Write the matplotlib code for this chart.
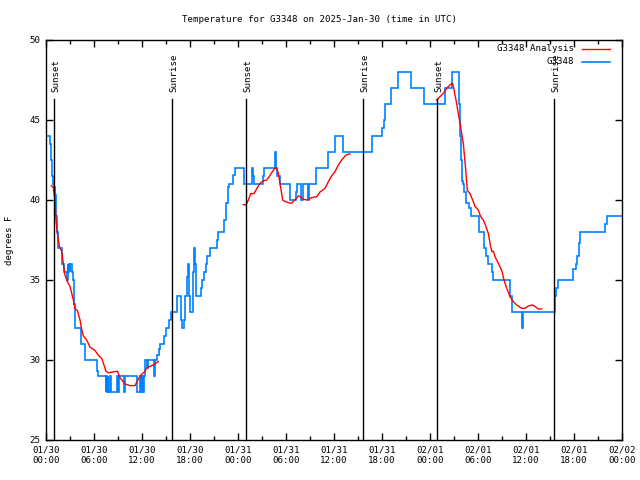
import numpy as np
import matplotlib
matplotlib.use("Agg")
import matplotlib.pyplot as plt
import matplotlib.transforms as mtransforms

# ---- data (hours since 2025-01-30 00:00 UTC) ----
obs_hours = [0.3, 0.55, 0.65, 0.79, 0.92, 1.0, 1.17, 1.3, 1.42, 1.54, 2.0, 2.3, 2.58,
             2.75, 2.8, 2.87, 2.95, 3.05, 3.2, 3.4, 3.5, 3.67, 4.375, 4.92, 6.33, 6.54,
             7.46, 7.55, 7.62, 7.7, 7.8, 8.0, 8.08, 8.9, 8.97, 9.17, 9.75, 9.83, 11.33,
             11.75, 11.85, 12.0, 12.1, 12.25, 12.4, 12.6, 12.7, 13.5, 13.6, 13.83, 14.1,
             14.25, 14.8, 15.0, 15.375, 15.58, 16.33, 16.42, 16.83, 17.0, 17.25, 17.375,
             17.58, 17.75, 17.83, 17.92, 18.0, 18.42, 18.54, 18.62, 18.75, 19.375, 19.54,
             19.75, 19.96, 20.17, 20.5, 21.42, 21.54, 22.29, 22.46, 22.71, 22.92, 23.42,
             23.58, 24.75, 25.7, 25.83, 25.95, 27.17, 27.3, 28.6, 28.7, 28.85, 29.2, 30.5,
             31.2, 31.35, 31.9, 32.1, 32.7, 32.85, 33.75, 35.3, 36.1, 37.17, 40.75, 42.0,
             42.2, 42.4, 43.15, 43.95, 45.6, 47.25, 49.9, 50.8, 51.67, 51.8, 51.9, 52.0,
             52.17, 52.3, 52.5, 52.9, 53.1, 54.1, 54.75, 55.0, 55.3, 55.7, 55.9, 58.0,
             58.2, 59.46, 59.6, 63.6, 63.75, 64.0, 65.9, 66.25, 66.4, 66.6, 66.8, 69.9,
             70.15, 72.0]
obs_temps = [44, 43.5, 42.5, 41.5, 41, 40.8, 40.3, 39, 38, 37, 36, 35.5, 35,
             36, 35.5, 36, 35.5, 36, 35.5, 35, 33.5, 32, 31, 30, 29.3, 29,
             28, 29, 28, 29, 28, 29, 28, 29, 28, 29, 28, 29, 28,
             29, 28, 29, 28, 29, 30, 29.5, 30, 29, 30, 30.3, 30.7,
             31, 31.5, 32, 32.5, 33, 33.5, 34, 32.5, 32, 32.5, 34,
             35.2, 36, 35.2, 34, 33, 35.5, 37, 36, 34, 34.5, 35,
             35.5, 36, 36.5, 37, 37.5, 38, 38.75, 39.8, 40.8, 41, 41.56,
             42, 41, 42, 41.5, 41, 41.5, 42, 43, 42, 41.5, 41, 40,
             40.5, 41, 40, 41, 40, 41, 42, 43, 44, 43, 44, 44.5,
             45, 46, 47, 48, 47, 46, 47, 48, 46, 44, 42.5, 41.2,
             41, 40.5, 39.8, 39.5, 39, 38, 37, 36.5, 36, 35.5, 35, 34,
             33, 32, 33, 34, 34.5, 35, 35.7, 36, 36.5, 37.3, 38, 38.5,
             39, 39]

ana_hours = [0.67, 0.9, 1.125, 1.25, 1.42, 1.67, 1.96, 2.17, 2.375, 2.67, 3.0, 3.42,
             3.625, 3.92, 4.25, 4.46, 4.67, 5.08, 5.5, 6.125, 6.54, 6.96, 7.17, 7.5,
             7.79, 8.92, 9.25, 9.875, 10.5, 11.125, 11.33, 11.75, 12.375, 12.58, 13.0,
             13.42, 14.04,
             np.nan,
             24.67, 25.0, 25.3, 25.6, 26.0, 26.33, 26.75, 27.17, 27.58, 27.9, 28.2,
             28.6, 28.83, 29.04, 29.25, 29.46, 29.58, 29.75, 30.3, 30.7, 31.1, 31.54,
             31.83, 32.17, 32.67, 33.2, 33.83, 34.25, 34.875, 35.3, 35.7, 36.125, 36.54,
             36.96, 37.375, 37.8, 38.0,
             np.nan,
             48.83, 49.25, 49.67, 50.08, 50.5, 50.83, 51.0, 51.25, 51.54, 51.83, 52.17,
             52.46, 52.67, 53.0, 53.33, 53.625, 54.04, 54.33, 54.67, 55.0, 55.3, 55.58,
             55.75, 55.92, 56.125, 56.54, 56.96, 57.25, 57.58, 58.0, 58.42, 58.83,
             59.46, 59.875, 60.29, 60.79, 61.125, 61.54, 61.96]
ana_temps = [40.9, 40.8, 40.0, 38.75, 37.9, 37.1, 36.8, 36.0, 35.3, 34.9, 34.6, 33.75,
             33.2, 33.1, 32.5, 31.9, 31.5, 31.25, 30.8, 30.6, 30.3, 30.1, 29.8, 29.3,
             29.2, 29.3, 28.9, 28.5, 28.4, 28.4, 28.6, 29.0, 29.3, 29.5, 29.6,
             29.7, 29.9,
             np.nan,
             39.7, 39.7, 40.0, 40.4, 40.4, 40.7, 41.04, 41.2, 41.25, 41.46, 41.7,
             41.98, 41.98, 41.67, 41.04, 40.4, 40.0, 39.94, 39.83, 39.8, 40.0, 40.25,
             40.2, 40.04, 40.0, 40.15, 40.2, 40.5, 40.73, 41.15, 41.5, 41.77, 42.19,
             42.5, 42.75, 42.875, 42.875,
             np.nan,
             46.25, 46.46, 46.67, 46.98, 47.19, 47.3, 46.9, 46.25, 45.4, 44.6, 43.5,
             41.9, 40.6, 40.4, 40.0, 39.6, 39.375, 38.96, 38.75, 38.33, 37.9, 37.08,
             36.77, 36.8, 36.46, 36.04, 35.6, 35.0, 34.5, 33.96, 33.65, 33.44,
             33.23, 33.23, 33.375, 33.44, 33.35, 33.19, 33.19]

sun_hours = [1.04, 15.79, 25.0, 39.67, 48.92, 63.54]
sun_labels = ["Sunset", "Sunrise", "Sunset", "Sunrise", "Sunset", "Sunrise"]

xtick_hours = [0, 6, 12, 18, 24, 30, 36, 42, 48, 54, 60, 66, 72]
xtick_labels = ["01/30\n00:00", "01/30\n06:00", "01/30\n12:00", "01/30\n18:00",
                "01/31\n00:00", "01/31\n06:00", "01/31\n12:00", "01/31\n18:00",
                "02/01\n00:00", "02/01\n06:00", "02/01\n12:00", "02/01\n18:00",
                "02/02\n00:00"]
ytick_values = [25, 30, 35, 40, 45, 50]

# ---- style ----
FONT = "DejaVu Sans Mono"
FS = 6.6
plt.rcParams['font.family'] = [FONT]
plt.rcParams['font.size'] = FS

fig = plt.figure(figsize=(6.4, 4.8), dpi=100)
ax = fig.add_axes([46/640, 40/480, 576/640, 400/480])

ax.plot(obs_hours, obs_temps, drawstyle='steps-post', color='#0080ff', lw=1.2,
        solid_joinstyle='miter')
ax.plot(ana_hours, ana_temps, color='#ff0000', lw=1.0)

trans = mtransforms.blended_transform_factory(ax.transData, ax.transAxes)
for t, lab in zip(sun_hours, sun_labels):
    ax.plot([t, t], [0, 0.8525], transform=trans, color='black', lw=1.0)
    ax.text(t + 0.25, 0.87, lab, transform=trans, rotation=90, ha='center',
            va='bottom', fontsize=FS)

ax.set_xlim(0, 72)
ax.set_ylim(25, 50)
ax.set_xticks(xtick_hours)
ax.set_xticklabels(xtick_labels)
ax.set_xticks(np.arange(0, 73, 3), minor=True)
ax.set_yticks(ytick_values)
ax.tick_params(which='both', direction='in', top=True, right=True, labelsize=FS,
               width=1, colors='black')
ax.tick_params(which='major', length=5, pad=4)
ax.tick_params(which='minor', length=3)
for s in ax.spines.values():
    s.set_linewidth(1.0)

fig.text(10/640, 0.5, "degrees F", rotation=90, ha='center', va='center', fontsize=FS)
fig.text(0.5, 1 - 20/480, "Temperature for G3348 on 2025-Jan-30 (time in UTC)",
         ha='center', va='center', fontsize=FS)

# legend (manual, gnuplot style)
lx_text = (574 - 46) / 576
lx0 = (582 - 46) / 576
lx1 = (610 - 46) / 576
rows = [(440 - 49) / 400, (440 - 62) / 400]
ax.plot([lx0, lx1], [rows[0], rows[0]], transform=ax.transAxes, color='#ff0000', lw=1.0)
ax.plot([lx0, lx1], [rows[1], rows[1]], transform=ax.transAxes, color='#0080ff', lw=1.2)
ax.text(lx_text, rows[0], "G3348 Analysis", transform=ax.transAxes, ha='right',
        va='center', fontsize=FS)
ax.text(lx_text, rows[1], "G3348", transform=ax.transAxes, ha='right',
        va='center', fontsize=FS)

fig.savefig("out.png", dpi=100)
